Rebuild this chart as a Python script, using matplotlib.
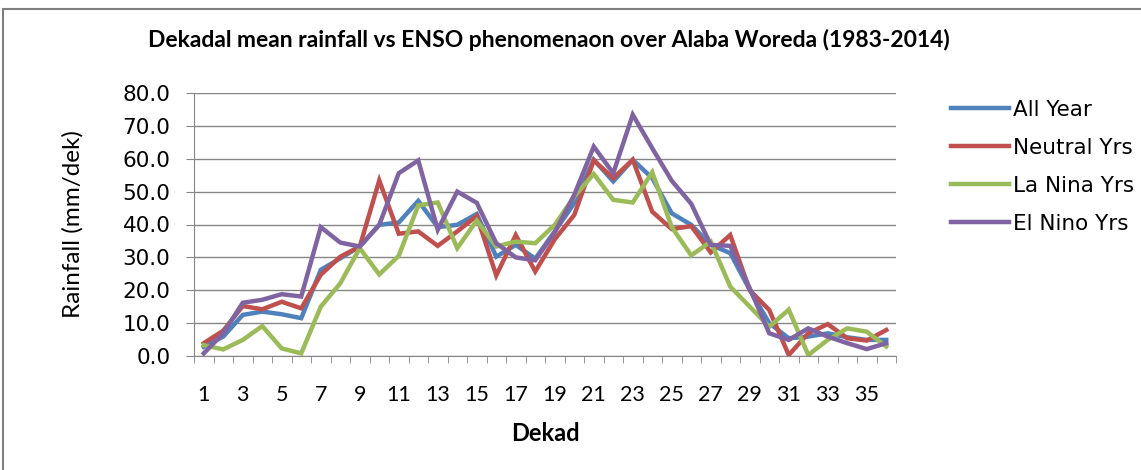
import matplotlib.pyplot as plt
from matplotlib.patches import Rectangle
import numpy as np

# ── data ──────────────────────────────────────────
dekads = list(range(1, 37))

all_year = [2.8, 5.9, 12.5, 13.5, 12.7, 11.5, 26.2, 29.7, 33.3, 39.9, 40.6, 47.2,
            39.2, 39.9, 43.2, 30.2, 33.8, 29.6, 37.9, 46.5, 59.7, 53.1, 59.7, 54.1,
            43.4, 39.9, 33.8, 31.3, 20.1, 10.0, 5.4, 5.9, 6.9, 5.7, 4.9, 4.9]
neutral = [3.9, 7.7, 15.2, 14.2, 16.5, 14.5, 24.7, 30.2, 33.3, 53.4, 37.2, 37.9,
           33.5, 37.9, 42.6, 24.5, 36.8, 25.7, 35.5, 42.9, 59.5, 54.1, 59.7, 43.9,
           38.6, 39.5, 31.5, 36.8, 20.0, 14.0, 0.3, 6.9, 9.7, 5.4, 4.7, 7.9]
la_nina = [3.3, 2.0, 4.9, 9.1, 2.3, 0.8, 15.0, 22.1, 32.8, 24.8, 30.5, 45.8,
           46.7, 32.8, 41.2, 33.3, 34.8, 34.3, 39.9, 48.5, 55.4, 47.5, 46.7, 55.9,
           39.2, 30.6, 34.8, 21.1, 15.0, 8.9, 14.1, 0.3, 4.9, 8.4, 7.4, 2.9]
el_nino = [0.8, 6.9, 16.2, 17.1, 18.8, 18.1, 39.2, 34.5, 33.3, 39.9, 55.6, 59.5,
           38.4, 50.0, 46.6, 34.3, 30.0, 29.1, 37.6, 49.0, 63.7, 55.6, 73.4, 63.2,
           53.3, 46.3, 33.8, 33.5, 20.6, 6.9, 4.9, 8.4, 5.9, 3.9, 2.1, 3.9]

series = [('All Year', all_year, '#4F81BD'),
          ('Neutral Yrs', neutral, '#C0504D'),
          ('La Nina Yrs', la_nina, '#9BBB59'),
          ('El Nino Yrs', el_nino, '#8064A2')]

yticks = np.arange(0, 81, 10)
xlabels = list(range(1, 36, 2))

# ── figure ──────────────────────────────────────────
fig = plt.figure(figsize=(11.41, 4.70), dpi=100)
ax = fig.add_axes([194 / 1141, 1 - 356 / 470, 702 / 1141, 263 / 470])

# outer chart border
fig.patches.append(Rectangle((3 / 1141, -0.1), 1.2, 1.1 - 9 / 470, transform=fig.transFigure,
                             fill=False, edgecolor='#7f7f7f', linewidth=1.5))

for name, vals, col in series:
    ax.plot(dekads, vals, color=col, linewidth=3.2, label=name, solid_joinstyle='miter')

grid_col = '#868686'
ax.set_xlim(0.5, 36.5)
ax.set_ylim(0, 80)
ax.set_yticks(yticks)
ax.set_yticklabels(['%.1f' % v for v in yticks], fontsize=15.5, family='DejaVu Sans')
ax.yaxis.grid(True, color=grid_col, linewidth=1)
ax.set_axisbelow(True)

ax.set_xticks(xlabels)
ax.set_xticklabels([str(v) for v in xlabels], fontsize=15.5, family='Lato')
ax.set_xticks(np.arange(0.5, 37, 1), minor=True)
ax.tick_params(axis='x', which='major', length=0, pad=21)
ax.tick_params(axis='x', which='minor', length=5, color=grid_col, direction='out')
ax.tick_params(axis='y', length=6, color=grid_col, pad=11)

for s in ['top', 'right']:
    ax.spines[s].set_visible(False)
for s in ['left', 'bottom']:
    ax.spines[s].set_color(grid_col)

ax.set_xlabel('Dekad', fontsize=17, fontweight='bold', family='Lato', labelpad=12)
ax.set_ylabel('Rainfall (mm/dek)', fontsize=17.5, family='Lato', labelpad=28)

fig.text(549 / 1141, 1 - 40 / 470,
         'Dekadal mean rainfall vs ENSO phenomenaon over Alaba Woreda (1983-2014)',
         ha='center', va='center', fontsize=16.5, fontweight='bold', family='Lato')

ax.legend(loc='upper left', bbox_to_anchor=(942 / 1141, 1 - 91 / 470), bbox_transform=fig.transFigure,
          frameon=False, prop={'family': 'DejaVu Sans', 'size': 15.5}, handlelength=2.7,
          handletextpad=0.2, labelspacing=0.84, borderaxespad=0)

plt.savefig('out.png', dpi=100)
